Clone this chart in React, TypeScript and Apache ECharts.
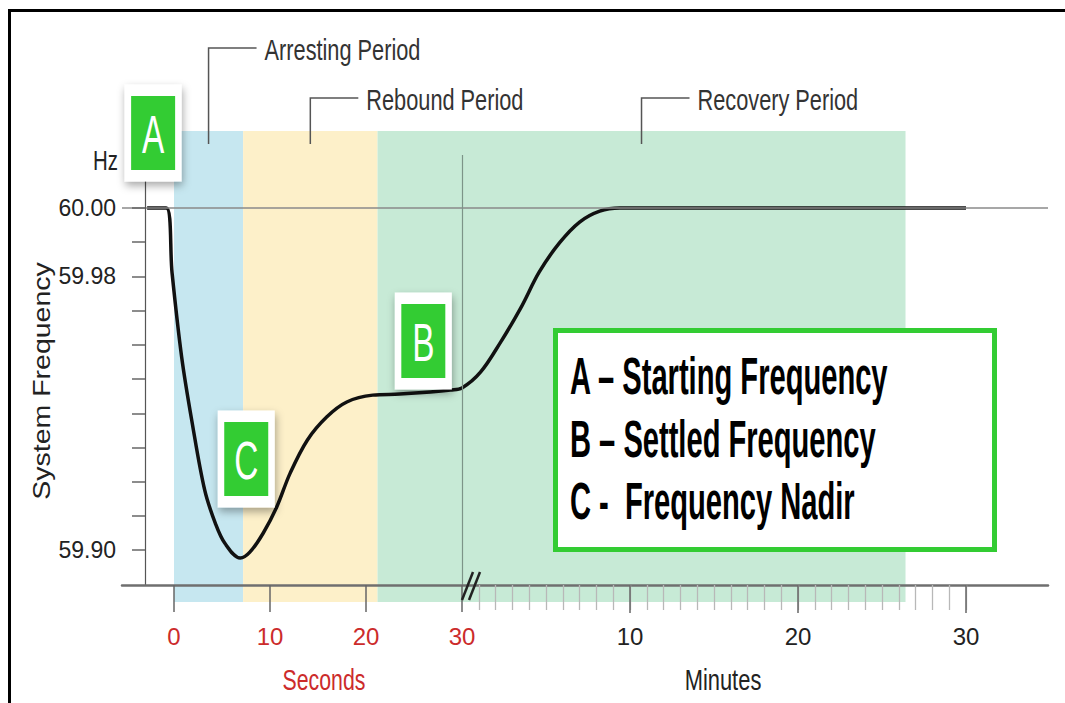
import React, { useEffect, useRef } from "react";
import * as echarts from "echarts";

// ---------- data ----------
// curve, first part: time in seconds, frequency in Hz
const secondsTime = [-2.8, -0.8, -0.2, 0.8, 1.9, 3.2, 4.3, 5.3, 6.9, 7.9, 9.3, 10.7, 12.1, 13.9, 15.9, 18.0, 20.7, 23.5, 26.7, 28.8, 30];
const secondsFreq = [60.0, 60.0, 59.981, 59.9564, 59.9371, 59.9175, 59.9079, 59.902, 59.8977, 59.8994, 59.905, 59.9126, 59.9225, 59.9322, 59.9389, 59.9433, 59.9453, 59.9456, 59.9462, 59.9468, 59.9474];
// curve, second part: time in minutes after the break
const minutesTime = [1.1, 2.3, 3.5, 4.6, 5.8, 7.0, 8.2, 9.4, 30];
const minutesFreq = [59.952, 59.9608, 59.9708, 59.9813, 59.9898, 59.9959, 59.9991, 60.0, 60.0];

const settledTime = 26.7; // seconds, point marked "B"

const periodNames = ["Arresting Period", "Rebound Period", "Recovery Period"];
// boundaries between periods: [value, unit]
const periodBounds: [number, "s" | "min"][] = [
  [0, "s"],
  [7.2, "s"],
  [21.2, "s"],
  [26.4, "min"],
];

const secondTicks = [0, 10, 20, 30];
const minuteLabels = [10, 20, 30];
const minuteTicks = [1, 2, 3, 4, 5, 6, 7, 8, 9, 10, 11, 12, 13, 14, 15, 16, 17, 18, 19, 20, 21, 22, 23, 24, 25, 26, 27, 28, 29, 30];
const freqTicks = [59.9, 59.91, 59.92, 59.93, 59.94, 59.95, 59.96, 59.97, 59.98, 59.99, 60.0];
const freqLabels = [59.9, 59.98, 60.0];

const markerNames = ["A", "B", "C"];
const legendLines = ["A \u2013 Starting Frequency", "B \u2013 Settled Frequency", "C -  Frequency Nadir"];

// ---------- scales ----------
const BREAK_S = 30; // the axis breaks at 30 s, then counts minutes
const MINUTE_SCALE = 1.75; // axis units (seconds scale) per minute after the break
const X_MIN = -5.4167;
const X_MAX = 91.0417;
const Y_MIN = 59.8898;
const Y_MAX = 60.0225;
const VLINE_TOP = 60.0155;

const toAxis = (v: number, unit: "s" | "min") => (unit === "s" ? v : BREAK_S + v * MINUTE_SCALE);
const M_MIN = (X_MIN - BREAK_S) / MINUTE_SCALE;
const M_MAX = (X_MAX - BREAK_S) / MINUTE_SCALE;

const FONT = '"Liberation Sans", Arial, Helvetica, sans-serif';
const GREEN = "#33cc33";
const BAND_COLORS = ["#c6e7f0", "#fdf0c9", "#c7ead6"];
const LABEL_OFFSETS = [-83, -33, -33];

export default function App() {
  const ref = useRef<HTMLDivElement>(null);

  useEffect(() => {
    if (!ref.current) return;
    const chart = echarts.init(ref.current, undefined, { renderer: "svg" });

    const curve: number[][] = [
      ...secondsTime.map((t, i) => [toAxis(t, "s"), secondsFreq[i]]),
      ...minutesTime.map((m, i) => [toAxis(m, "min"), minutesFreq[i]]),
    ];

    const bands = periodNames.map((_, i) => [
      toAxis(periodBounds[i][0], periodBounds[i][1]),
      toAxis(periodBounds[i + 1][0], periodBounds[i + 1][1]),
    ]);

    // anchors of the A, B, C badges
    const startPt = curve[0];
    const settledPt = curve[secondsTime.indexOf(settledTime)];
    const nadirPt = curve.reduce((a, b) => (b[1] < a[1] ? b : a));
    const anchors = [startPt, settledPt, nadirPt];
    const offsets = [
      [6, -75],
      [-7, -51],
      [6, -99],
    ];

    const textStyle = (text: string, fontSize: number, fill: string, align: string, weight = "normal") => ({
      text,
      fill,
      fontSize,
      fontFamily: FONT,
      fontWeight: weight,
      align,
      textAlign: align,
      verticalAlign: "middle",
      textVerticalAlign: "middle",
    });

    const option: any = {
      animation: false,
      backgroundColor: "#ffffff",
      grid: { left: 122, right: 17, top: 131, bottom: 118, containLabel: false, outerBoundsMode: "none" },
      xAxis: [
        {
          type: "value",
          min: X_MIN,
          max: X_MAX,
          position: "bottom",
          z: 5,
          splitLine: { show: false },
          axisLine: { show: true, onZero: false, lineStyle: { color: "#6f6f6f", width: 2.5 } },
          axisTick: { show: true, customValues: secondTicks, length: 27, lineStyle: { color: "#666", width: 1.5 } },
          axisLabel: {
            show: true,
            customValues: secondTicks,
            color: "#cc2b2b",
            fontSize: 24,
            fontFamily: FONT,
            margin: 39,
          },
        },
        {
          type: "value",
          min: M_MIN,
          max: M_MAX,
          position: "bottom",
          z: 5,
          splitLine: { show: false },
          axisLine: { show: false, onZero: false },
          axisTick: { show: true, customValues: minuteTicks, length: 25, lineStyle: { color: "#b8b8b8", width: 1.3 } },
          axisLabel: {
            show: true,
            customValues: minuteLabels,
            color: "#222",
            fontSize: 24,
            fontFamily: FONT,
            margin: 39,
          },
        },
        {
          type: "value",
          min: M_MIN,
          max: M_MAX,
          position: "bottom",
          z: 5,
          splitLine: { show: false },
          axisLine: { show: false, onZero: false },
          axisTick: { show: true, customValues: minuteLabels, length: 28, lineStyle: { color: "#666", width: 1.5 } },
          axisLabel: { show: false },
        },
      ],
      yAxis: {
        type: "value",
        min: Y_MIN,
        max: Y_MAX,
        offset: -23,
        z: 5,
        splitLine: { show: false },
        axisLine: { show: true, onZero: false, lineStyle: { color: "#555", width: 1.2 } },
        axisTick: { show: true, customValues: freqTicks, length: 13, lineStyle: { color: "#666", width: 1.5 } },
        axisLabel: {
          show: true,
          customValues: freqLabels,
          formatter: (v: number) => v.toFixed(2),
          color: "#222",
          fontSize: 23,
          fontFamily: FONT,
          margin: 29,
        },
      },
      series: [
        {
          type: "custom",
          name: "periods",
          z: 1,
          silent: true,
          clip: false,
          data: bands,
          encode: { x: [0, 1] },
          renderItem: (params: any, api: any) => {
            const i = params.dataIndex;
            const tl = api.coord([api.value(0), Y_MAX]);
            const br = api.coord([api.value(1), Y_MIN]);
            const cx = (tl[0] + br[0]) / 2;
            const ly = tl[1] + LABEL_OFFSETS[i];
            return {
              type: "group",
              children: [
                {
                  type: "rect",
                  shape: { x: tl[0], y: tl[1], width: br[0] - tl[0], height: br[1] - tl[1] + 17 },
                  style: { fill: BAND_COLORS[i] },
                },
                {
                  type: "polyline",
                  shape: { points: [[cx, tl[1] + 13], [cx, ly], [cx + 48, ly]] },
                  style: { stroke: "#555", lineWidth: 1.5, fill: null },
                },
                {
                  type: "text",
                  x: cx + 56,
                  y: ly + 2,
                  scaleX: 0.725,
                  style: textStyle(periodNames[i], 30, "#333", "left"),
                },
              ],
            };
          },
        },
        {
          type: "line",
          name: "refs",
          z: 2,
          silent: true,
          data: [],
          markLine: {
            silent: true,
            symbol: ["none", "none"],
            label: { show: false },
            data: [
              { yAxis: 60, lineStyle: { color: "#8a8a8a", width: 1.5, type: "solid" } },
              [
                { coord: [BREAK_S, VLINE_TOP], lineStyle: { color: "#7d9488", width: 1.2, type: "solid" } },
                { coord: [BREAK_S, Y_MIN] },
              ],
            ],
          },
        },
        {
          type: "line",
          name: "System Frequency",
          z: 3,
          data: curve,
          showSymbol: false,
          symbol: "none",
          smooth: 0.35,
          clip: false,
          lineStyle: { color: "#111", width: 3.5 },
        },
        {
          type: "custom",
          name: "axisBreak",
          z: 6,
          silent: true,
          clip: false,
          data: [[BREAK_S]],
          encode: { x: 0 },
          renderItem: (_params: any, api: any) => {
            const p = api.coord([api.value(0), Y_MIN]);
            return {
              type: "group",
              children: [0, 7].map((dx) => ({
                type: "line",
                shape: { x1: p[0] + dx, y1: p[1] + 15, x2: p[0] + dx + 11, y2: p[1] - 13 },
                style: { stroke: "#222", lineWidth: 2.5 },
              })),
            };
          },
        },
        {
          type: "custom",
          name: "badges",
          z: 10,
          silent: true,
          clip: false,
          data: anchors,
          encode: { x: 0, y: 1 },
          renderItem: (params: any, api: any) => {
            const i = params.dataIndex;
            const p = api.coord([api.value(0), api.value(1)]);
            const cx = p[0] + offsets[i][0];
            const cy = p[1] + offsets[i][1];
            return {
              type: "group",
              children: [
                {
                  type: "rect",
                  shape: { x: cx - 28.5, y: cy - 48.5, width: 57, height: 97 },
                  style: {
                    fill: "#ffffff",
                    shadowBlur: 8,
                    shadowColor: "rgba(0,0,0,0.35)",
                    shadowOffsetY: 4,
                    shadowOffsetX: 1,
                  },
                },
                {
                  type: "rect",
                  shape: { x: cx - 22, y: cy - 37, width: 44, height: 74 },
                  style: { fill: GREEN },
                },
                {
                  type: "text",
                  x: cx,
                  y: cy + 1,
                  scaleX: 0.63,
                  style: textStyle(markerNames[i], 53, "#ffffff", "center"),
                },
              ],
            };
          },
        },
      ],
      graphic: [
        {
          type: "line",
          z: 100,
          shape: { x1: 9.5, y1: 9, x2: 9.5, y2: 703 },
          style: { stroke: "#000", lineWidth: 3 },
        },
        {
          type: "line",
          z: 100,
          shape: { x1: 8, y1: 10.5, x2: 1065, y2: 10.5 },
          style: { stroke: "#000", lineWidth: 3 },
        },
        {
          type: "text",
          z: 100,
          x: 118,
          y: 160,
          scaleX: 0.73,
          style: textStyle("Hz", 28, "#222", "right"),
        },
        {
          type: "text",
          z: 100,
          x: 42,
          y: 381,
          rotation: Math.PI / 2,
          scaleX: 1.24,
          style: textStyle("System Frequency", 23, "#222", "center"),
        },
        {
          type: "text",
          z: 100,
          x: 324,
          y: 680,
          scaleX: 0.71,
          style: textStyle("Seconds", 30, "#cc2b2b", "center"),
        },
        {
          type: "text",
          z: 100,
          x: 723,
          y: 680,
          scaleX: 0.73,
          style: textStyle("Minutes", 30, "#222", "center"),
        },
        {
          type: "group",
          z: 100,
          children: [
            {
              type: "rect",
              z: 100,
              shape: { x: 555.5, y: 330.5, width: 439, height: 219 },
              style: { fill: "#ffffff", stroke: GREEN, lineWidth: 5 },
            },
            ...legendLines.map((t, i) => ({
              type: "text",
              z: 101,
              x: 570,
              y: 376.5 + i * 62.5,
              scaleX: 0.56,
              style: textStyle(t, 52, "#000", "left", "bold"),
            })),
          ],
        },
      ],
    };

    chart.setOption(option);
    return () => chart.dispose();
  }, []);

  return (
    <div
      ref={ref}
      style={{ position: "fixed", left: 0, top: 0, width: 1065, height: 703, background: "#fff" }}
    />
  );
}
